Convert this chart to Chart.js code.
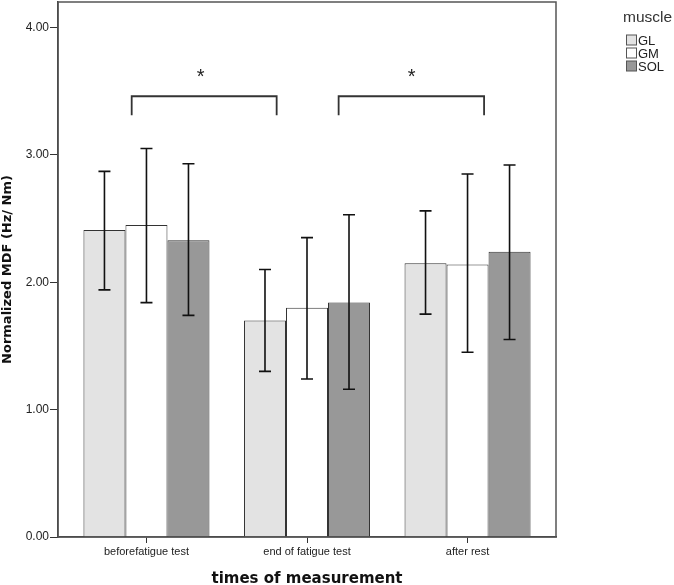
<!DOCTYPE html>
<html>
<head>
<meta charset="utf-8">
<script src="https://cdn.jsdelivr.net/npm/chart.js@4"></script>
<style>
  body { margin: 0; background: #fff; }
  #wrap { width: 674px; height: 585px; position: relative; }
</style>
</head>
<body>
<div id="wrap"><canvas id="mychart"></canvas></div>
<script>
var categories = ["beforefatigue test", "end of fatigue test", "after rest"]
var muscles = ["GL", "GM", "SOL"]

var glMean = [2.41, 1.70, 2.15]
var gmMean = [2.45, 1.80, 2.14]
var solMean = [2.33, 1.84, 2.24]

var glLow = [1.94, 1.30, 1.75]
var glHigh = [2.87, 2.10, 2.56]
var gmLow = [1.84, 1.24, 1.45]
var gmHigh = [3.05, 2.35, 2.85]
var solLow = [1.74, 1.16, 1.55]
var solHigh = [2.93, 2.53, 2.92]

var yTicks = [0, 1, 2, 3, 4]

// significance brackets: x in category units, y in axis units
var bracketFrom = [-0.092, 1.197]
var bracketTo = [0.811, 2.103]
var bracketTop = 3.46
var bracketFoot = 3.31
var starX = [0.338, 1.652]
var starY = 3.64

var lows = [glLow, gmLow, solLow]
var highs = [glHigh, gmHigh, solHigh]

// category axis with a little extra room at both ends (like the SPSS plot)
class InsetCategory extends Chart.CategoryScale {
    buildTicks() {
        var t = super.buildTicks()
        this._startValue -= 0.051
        this._valueRange += 0.102
        return t
    }
}
InsetCategory.id = 'insetCategory'
InsetCategory.defaults = Chart.CategoryScale.defaults
Chart.register(InsetCategory)

// error bars, frame, brackets and legend
var extras = {
    id: 'extras',
    afterDatasetsDraw: function(chart) {
        var ctx = chart.ctx
        var x = chart.scales.x, y = chart.scales.y
        var area = chart.chartArea

        ctx.save()
        ctx.strokeStyle = "#111"
        ctx.lineWidth = 1.6
        chart.data.datasets.forEach(function(ds, di) {
            var meta = chart.getDatasetMeta(di)
            meta.data.forEach(function(bar, i) {
                var top = y.getPixelForValue(highs[di][i])
                var bot = y.getPixelForValue(lows[di][i])
                ctx.beginPath()
                ctx.moveTo(bar.x, top); ctx.lineTo(bar.x, bot)
                ctx.moveTo(bar.x - 6, top); ctx.lineTo(bar.x + 6, top)
                ctx.moveTo(bar.x - 6, bot); ctx.lineTo(bar.x + 6, bot)
                ctx.stroke()
            })
        })

        // plot frame
        ctx.strokeStyle = "#555"
        ctx.lineWidth = 1.5
        ctx.strokeRect(area.left, area.top, area.right - area.left, area.bottom - area.top)

        // brackets
        ctx.strokeStyle = "#333"
        ctx.lineWidth = 1.8
        var ty = y.getPixelForValue(bracketTop), fy = y.getPixelForValue(bracketFoot)
        for (var b = 0; b < bracketFrom.length; b++) {
            var x1 = x.getPixelForValue(bracketFrom[b]), x2 = x.getPixelForValue(bracketTo[b])
            ctx.beginPath()
            ctx.moveTo(x1, fy); ctx.lineTo(x1, ty); ctx.lineTo(x2, ty); ctx.lineTo(x2, fy)
            ctx.stroke()
        }
        ctx.fillStyle = "#222"
        ctx.font = "20px 'Liberation Sans', Arial, sans-serif"
        ctx.textAlign = "center"
        ctx.textBaseline = "middle"
        for (var s = 0; s < starX.length; s++) {
            ctx.fillText("*", x.getPixelForValue(starX[s]), y.getPixelForValue(starY) + 4)
        }

        // legend
        ctx.textAlign = "left"
        ctx.textBaseline = "middle"
        ctx.fillStyle = "#333"
        ctx.font = "15.5px 'Liberation Sans', Arial, sans-serif"
        ctx.fillText("muscle", 623, 18)
        ctx.font = "13px 'Liberation Sans', Arial, sans-serif"
        chart.data.datasets.forEach(function(ds, di) {
            var ly = 40.5 + di * 13
            ctx.fillStyle = ds.backgroundColor
            ctx.fillRect(626.5, ly - 5.5, 10, 10)
            ctx.strokeStyle = "#555"
            ctx.lineWidth = 1
            ctx.strokeRect(626.5, ly - 5.5, 10, 10)
            ctx.fillStyle = "#222"
            ctx.fillText(ds.label, 638, ly + 0.5)
        })
        ctx.restore()
    }
}

var mychart = document.getElementById("mychart").getContext('2d')

var chart = new Chart(mychart, {
    type: 'bar',
    data: {
        labels: categories,
        datasets: [
            { label: muscles[0], data: glMean, backgroundColor: "#e3e3e3", borderColor: "#333", borderWidth: 1 },
            { label: muscles[1], data: gmMean, backgroundColor: "#ffffff", borderColor: "#333", borderWidth: 1 },
            { label: muscles[2], data: solMean, backgroundColor: "#989898", borderColor: "#333", borderWidth: 1 }
        ]
    },
    options: {
        responsive: true,
        maintainAspectRatio: false,
        animation: false,
        layout: { padding: { top: 2, right: 118, left: 0, bottom: 0 } },
        plugins: {
            legend: { display: false },
            tooltip: { enabled: false }
        },
        datasets: { bar: { categoryPercentage: 0.785, barPercentage: 1.0 } },
        scales: {
            x: {
                type: 'insetCategory',
                grid: { drawOnChartArea: false, offset: false, tickLength: 6, color: "#333" },
                border: { color: "#333", width: 1.5 },
                ticks: { color: "#222", font: { family: "'Liberation Sans', Arial, sans-serif", size: 11 }, padding: 2 },
                title: {
                    display: true, text: "times of measurement", color: "#111",
                    font: { family: "'DejaVu Sans', sans-serif", size: 15, weight: 'bold' },
                    padding: { top: 9, bottom: -3 }
                },
                afterFit: function(scale) { scale.height = 48 }
            },
            y: {
                min: 0, max: 4.2,
                afterBuildTicks: function(scale) {
                    scale.ticks = yTicks.map(function(v) { return { value: v } })
                },
                grid: { drawOnChartArea: false, tickLength: 8, color: "#333" },
                border: { color: "#333", width: 1.5 },
                ticks: {
                    color: "#222", padding: 1,
                    font: { family: "'Liberation Sans', Arial, sans-serif", size: 12 },
                    callback: function(v) { return v.toFixed(2) }
                },
                title: {
                    display: true, text: "Normalized MDF (Hz/ Nm)", color: "#111",
                    font: { family: "'DejaVu Sans', sans-serif", size: 13, weight: 'bold' },
                    padding: { top: 0, bottom: 2 }
                },
                afterFit: function(scale) {
                    scale.width = 58
                    scale.paddingTop = 0
                    scale.paddingBottom = 0
                }
            }
        }
    },
    plugins: [extras]
})
</script>
</body>
</html>
